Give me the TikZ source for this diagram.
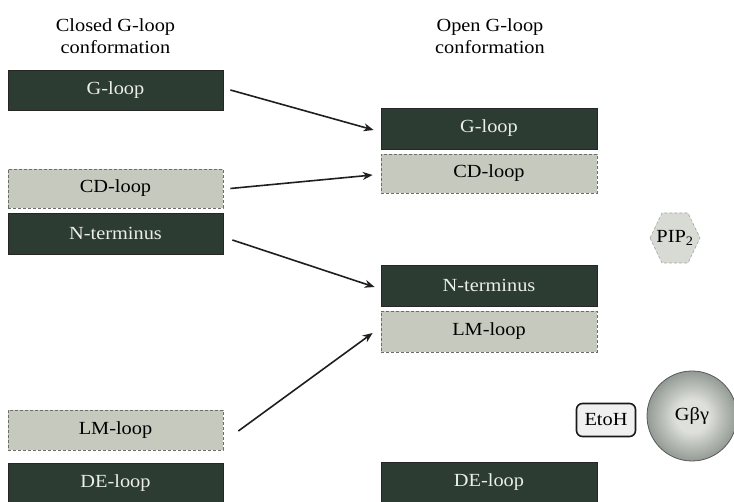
\documentclass[tikz,border=0pt]{standalone}
\usepackage{fontspec}
\setmainfont{Liberation Serif}[FakeStretch=1.1]
\usetikzlibrary{arrows.meta}
\definecolor{dk}{RGB}{44,60,51}
\definecolor{dktext}{RGB}{236,238,232}
\definecolor{lt}{RGB}{198,201,190}
\definecolor{ltborder}{RGB}{105,110,105}
\definecolor{hexfill}{RGB}{216,218,212}
\definecolor{cin}{RGB}{222,224,220}
\definecolor{cout}{RGB}{100,110,102}
\pgfdeclareradialshading{ball}{\pgfpoint{0bp}{0bp}}{color(0bp)=(cin); color(9bp)=(cin); color(35bp)=(cout); color(100bp)=(cout)}
\begin{document}
\begin{tikzpicture}[x=1pt,y=-1pt,
  font=\fontsize{18.5}{22}\selectfont,
  darkbox/.style={draw=black!85, line width=0.8pt, fill=dk, text=dktext,
    minimum width=215pt, inner sep=0pt},
  lightbox/.style={draw=ltborder, densely dashed, line width=0.7pt, fill=lt, text=black,
    minimum width=215pt, inner sep=0pt},
  title/.style={align=center, text=black},
  arr/.style={-{Stealth[length=10pt,width=8pt]}, line width=1.6pt, black!88}]
\useasboundingbox (0,0) rectangle (734,502);
% titles
\node[title] (tl) at (115.5,36) {Closed G-loop\\conformation};
\node[title] (tr) at (490,36) {Open G-loop\\conformation};
% left column
\node[darkbox, minimum height=40pt] (lG) at (115.5,90) {G-loop};
\node[lightbox, minimum height=39pt] (lCD) at (115.5,188.5) {CD-loop};
\node[darkbox, minimum height=41pt] (lN) at (115.5,233.5) {N-terminus};
\node[lightbox, minimum height=40pt] (lLM) at (115.5,430) {LM-loop};
\node[darkbox, minimum height=40pt] (lDE) at (115.5,483) {DE-loop};
% right column
\node[darkbox, minimum height=41pt, minimum width=216pt] (rG) at (489,128.5) {G-loop};
\node[lightbox, minimum height=39pt, minimum width=216pt] (rCD) at (489,173.5) {CD-loop};
\node[darkbox, minimum height=41pt, minimum width=216pt] (rN) at (489,285.5) {N-terminus};
\node[lightbox, minimum height=41pt, minimum width=216pt] (rLM) at (489,331.5) {LM-loop};
\node[darkbox, minimum height=41pt, minimum width=216pt] (rDE) at (489,482.5) {DE-loop};
% arrows
\draw[arr] ([xshift=7pt]lG.east) -- ([xshift=-7pt,yshift=-1.5pt]rG.west);
\draw[arr] ([xshift=7pt]lCD.east) -- ([xshift=-8pt,yshift=-1.5pt]rCD.west);
\draw[arr] ([xshift=9pt,yshift=-6.5pt]lN.east) -- ([xshift=-6pt,yshift=-1.5pt]rN.west);
\draw[arr] ([xshift=15pt,yshift=-1pt]lLM.east) -- ([xshift=-8pt,yshift=-1.5pt]rLM.west);
% PIP2 hexagon
\draw[draw=gray!70, densely dashed, line width=0.6pt, fill=hexfill]
  (650,238) -- (662,213) -- (688,213) -- (700,238) -- (688,263) -- (662,263) -- cycle;
\node (pip) at (675,238) {PIP\textsubscript{2}};
% EtoH
\node[draw=black!90, line width=1.6pt, rounded corners=6pt, fill=gray!12,
  minimum width=59pt, minimum height=33pt, inner sep=0pt] (etoh) at (606,420) {EtoH};
% Gbg
\node[circle, draw=black!65, line width=0.8pt, shading=ball, minimum size=90pt, inner sep=0pt] (gbg) at (692,416) {Gβγ};
\end{tikzpicture}
\end{document}
